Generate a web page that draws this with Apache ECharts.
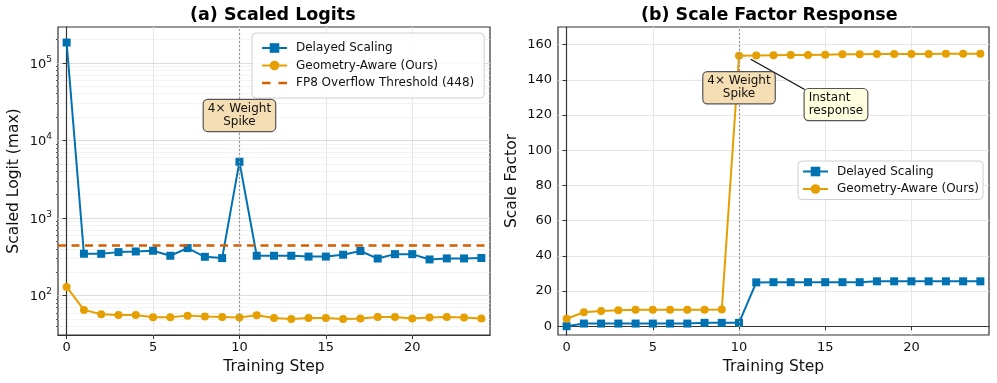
<!DOCTYPE html>
<html>
<head>
<meta charset="utf-8">
<script src="https://cdn.jsdelivr.net/npm/echarts@6/dist/echarts.min.js"></script>
<style>html,body{margin:0;padding:0;background:#fff}#c{width:997px;height:383px}</style>
</head>
<body>
<div id="c"></div>
<script>
// ---- data ----
const steps = [0,1,2,3,4,5,6,7,8,9,10,11,12,13,14,15,16,17,18,19,20,21,22,23,24];
const logitDelayed = [183000,346,345,363,370,378,326,409,316,304,5300,326,326,326,318,318,336,375,300,342,342,292,301,301,305];
const logitGeom = [129,65.3,57.4,56.3,56,52.5,52.5,55.1,53.6,53,52,55.8,51.5,50,51.5,51.5,50,50.5,53,53,50.5,52,53,52,50.5];
const scaleDelayed = [0,1.5,1.5,1.5,1.5,1.5,1.5,1.5,1.9,1.9,1.9,24.9,25,25,25,25,25,25,25.5,25.5,25.5,25.5,25.5,25.5,25.5];
const scaleGeom = [4.2,7.9,8.7,9.1,9.3,9.4,9.4,9.4,9.4,9.5,153.6,153.8,154,154.1,154.1,154.3,154.5,154.5,154.6,154.6,154.7,154.7,154.8,154.8,154.8];
const threshold = 448;
const spikeStep = 10;
const xTicks = [0,5,10,15,20];
const logTicks = [100,1000,10000,100000];
const logMinor = [40,50,60,70,80,90,200,300,400,500,600,700,800,900,2000,3000,4000,5000,6000,7000,8000,9000,20000,30000,40000,50000,60000,70000,80000,90000,200000];
const scaleTicks = [0,20,40,60,80,100,120,140,160];
const names = ['Delayed Scaling','Geometry-Aware (Ours)','FP8 Overflow Threshold (448)'];

const BLUE='#0072B2', ORANGE='#E69F00', RED='#D55E00';
const FONT='DejaVu Sans';
const pair = (xs, ys) => xs.map((x,i)=>[x, ys[i]]);

const chart = echarts.init(document.getElementById('c'));

function xAxis(gi){
  return {type:'value', gridIndex:gi, min:-0.5, max:24.5,
    name:'Training Step', nameLocation:'middle', nameGap:22,
    nameTextStyle:{fontFamily:FONT,fontSize:15.5,color:'#111'},
    axisLine:{show:true,lineStyle:{color:'#333',width:1.2}},
    axisTick:{show:true,length:4,lineStyle:{color:'#333'},customValues:xTicks},
    axisLabel:{fontFamily:FONT,fontSize:13,color:'#111',margin:6,customValues:xTicks},
    splitLine:{show:true,lineStyle:{color:'#e6e6e6',width:1}}};
}
const labelSup = v => '{b|10}{s|' + Math.round(Math.log10(v)) + '}';
const legendCommon = {orient:'vertical', itemWidth:25, itemHeight:12,
  backgroundColor:'rgba(255,255,255,0.85)', borderColor:'#d0d0d0', borderWidth:1, borderRadius:4,
  textStyle:{fontFamily:FONT,fontSize:12,color:'#111',padding:[0,0,0,4]}};
const boxLabel = (text, bg, pos, align) => ({show:true, position:pos, distance:0, formatter:text, fontFamily:FONT, fontSize:12,
  color:'#111', align:align, lineHeight:13, backgroundColor:bg, borderColor:'#555', borderWidth:1.2, borderRadius:4, padding:[3,4,2,4]});

const option = {
  animation:false,
  backgroundColor:'#fff',
  title:[
    {text:'(a) Scaled Logits', left:190, top:6, padding:0, textStyle:{fontFamily:FONT,fontSize:17.5,fontWeight:'bold',color:'#000'}},
    {text:'(b) Scale Factor Response', left:641, top:6, padding:0, textStyle:{fontFamily:FONT,fontSize:17.5,fontWeight:'bold',color:'#000'}}
  ],
  grid:[
    {left:58, right:507, top:27, bottom:48, show:true, borderColor:'#333', borderWidth:1.2, backgroundColor:'transparent'},
    {left:558, right:8, top:27, bottom:48, show:true, borderColor:'#333', borderWidth:1.2, backgroundColor:'transparent'}
  ],
  legend:[
    Object.assign({}, legendCommon, {left:252, top:33, padding:[9,10,9,9], itemGap:5.5,
      data:[names[0], names[1], {name:names[2], icon:'path://M0,0h8.5v2.6h-8.5zM16.5,0h8.5v2.6h-8.5z'}]}),
    Object.assign({}, legendCommon, {left:798, top:161, padding:[4.5,4,4.5,4], itemGap:5.5, data:names.slice(0,2)})
  ],
  xAxis:[xAxis(0), xAxis(1)],
  yAxis:[
    {type:'log', gridIndex:0, min:31, max:290000, logBase:10, position:'left',
     name:'Scaled Logit (max)', nameLocation:'middle', nameGap:36,
     nameTextStyle:{fontFamily:FONT,fontSize:15.5,color:'#111'},
     axisLine:{show:true,lineStyle:{color:'#333',width:1.2}},
     axisTick:{show:true,length:4,lineStyle:{color:'#333'},customValues:logTicks},
     axisLabel:{fontFamily:FONT,color:'#111',margin:6,customValues:logTicks,formatter:labelSup,
       rich:{b:{fontFamily:FONT,fontSize:13,color:'#111',verticalAlign:'bottom'},
             s:{fontFamily:FONT,fontSize:9,color:'#111',verticalAlign:'top',padding:[0,0,7,0]}}},
     splitLine:{show:true,lineStyle:{color:'#dcdcdc',width:1}}, z:2},
    {type:'value', gridIndex:1, min:-5, max:170,
     name:'Scale Factor', nameLocation:'middle', nameGap:38,
     nameTextStyle:{fontFamily:FONT,fontSize:15.5,color:'#111'},
     axisLine:{show:true,lineStyle:{color:'#333',width:1.2}},
     axisTick:{show:true,length:4,lineStyle:{color:'#333'},customValues:scaleTicks},
     axisLabel:{fontFamily:FONT,fontSize:13,color:'#111',margin:6,customValues:scaleTicks},
     splitLine:{show:true,lineStyle:{color:'#e6e6e6',width:1}}},
    // minor log ticks / grid lines for the left panel
    {type:'log', gridIndex:0, min:31, max:290000, logBase:10, position:'left', offset:0,
     axisLine:{show:false},
     axisTick:{show:true,length:2,lineStyle:{color:'#333',width:0.8},customValues:logMinor},
     axisLabel:{show:false},
     splitLine:{show:true,lineStyle:{color:'#f0f0f0',width:0.8}}, z:1}
  ],
  series:[
    {name:names[2], type:'line', xAxisIndex:0, yAxisIndex:0, data:[], symbol:'none',
     lineStyle:{color:RED,width:2.5,type:[8,5]}, itemStyle:{color:RED}, z:4,
     markLine:{silent:true, symbol:'none', animation:false, label:{show:false},
       data:[{yAxis:threshold, lineStyle:{color:RED,width:2.5,type:[8,5.5]}}]}},
    {name:'spike', type:'line', xAxisIndex:0, yAxisIndex:0, data:[], symbol:'none', z:1,
     markLine:{silent:true, symbol:'none', animation:false, label:{show:false},
       data:[{xAxis:spikeStep, lineStyle:{color:'#999',width:1.2,type:[2,2]}}]}},
    {name:names[0], type:'line', xAxisIndex:0, yAxisIndex:0, data:pair(steps,logitDelayed),
     symbol:'rect', symbolSize:8, lineStyle:{color:BLUE,width:2}, itemStyle:{color:BLUE}, z:3},
    {name:names[1], type:'line', xAxisIndex:0, yAxisIndex:0, data:pair(steps,logitGeom),
     symbol:'circle', symbolSize:8, lineStyle:{color:ORANGE,width:2}, itemStyle:{color:ORANGE}, z:3},
    {name:'annotA', type:'line', xAxisIndex:0, yAxisIndex:0, data:[], symbol:'none', z:5,
     markPoint:{silent:true, animation:false, data:[{coord:[spikeStep,21000], symbol:'rect', symbolSize:0,
       label:boxLabel('4× Weight\nSpike','#F5DEB3','inside','center')}]}},
    // right panel
    {name:names[0], type:'line', xAxisIndex:1, yAxisIndex:1, data:pair(steps,scaleDelayed),
     symbol:'rect', symbolSize:8, lineStyle:{color:BLUE,width:2}, itemStyle:{color:BLUE}, z:3,
     markLine:{silent:true, symbol:'none', animation:false, label:{show:false},
       data:[{xAxis:spikeStep, lineStyle:{color:'#999',width:1.2,type:[2,2]}}]}},
    {name:names[1], type:'line', xAxisIndex:1, yAxisIndex:1, data:pair(steps,scaleGeom),
     symbol:'circle', symbolSize:8, lineStyle:{color:ORANGE,width:2}, itemStyle:{color:ORANGE}, z:3},
    {name:'annotB', type:'line', xAxisIndex:1, yAxisIndex:1, data:[], symbol:'none', z:5,
     markLine:{silent:true, animation:false, symbol:['none','arrow'], symbolSize:[0,9], label:{show:false},
       data:[[{coord:[13.81,134.5]},{coord:[10.68,151.7]}]], lineStyle:{color:'#111',width:1.3,type:'solid'}},
     markPoint:{silent:true, animation:false, data:[
       {coord:[spikeStep,135.5], symbol:'rect', symbolSize:0, label:boxLabel('4× Weight\nSpike','#F5DEB3','inside','center')},
       {coord:[13.81,125.9], symbol:'rect', symbolSize:0, label:boxLabel('Instant\nresponse','#FFFFE0','right','left')}
     ]}}
  ]
};
chart.setOption(option);
</script>
</body>
</html>
